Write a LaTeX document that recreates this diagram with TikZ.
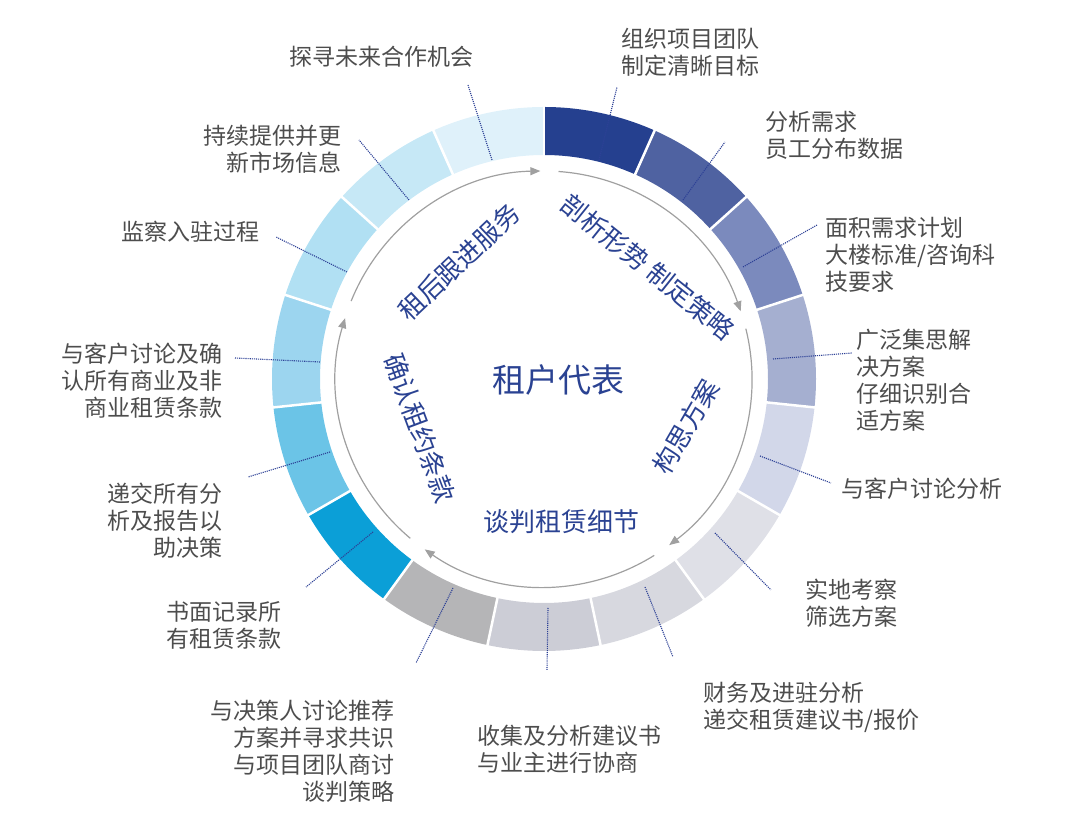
\documentclass[tikz,border=0pt]{standalone}
\usepackage{fontspec}
\setmainfont{Noto Sans CJK SC}
\usepackage{xcolor}
\usetikzlibrary{arrows.meta, calc}
\definecolor{NavyText}{RGB}{42, 66, 146}
\definecolor{LabelGray}{RGB}{77, 77, 77}
\definecolor{LeaderBlue}{RGB}{45, 65, 150}
\definecolor{ArrowGray}{RGB}{160, 160, 160}
\definecolor{SegA}{RGB}{37, 64, 143}
\definecolor{SegB}{RGB}{79, 98, 161}
\definecolor{SegC}{RGB}{123, 138, 189}
\definecolor{SegD}{RGB}{165, 175, 208}
\definecolor{SegE}{RGB}{210, 215, 233}
\definecolor{SegF}{RGB}{223, 224, 231}
\definecolor{SegG}{RGB}{215, 216, 223}
\definecolor{SegH}{RGB}{204, 205, 214}
\definecolor{SegI}{RGB}{181, 181, 183}
\definecolor{SegJ}{RGB}{11, 159, 215}
\definecolor{SegK}{RGB}{107, 196, 231}
\definecolor{SegL}{RGB}{156, 213, 239}
\definecolor{SegM}{RGB}{177, 224, 243}
\definecolor{SegN}{RGB}{198, 232, 246}
\definecolor{SegO}{RGB}{223, 241, 250}

\begin{document}
\begin{tikzpicture}[
        x=1pt, y=1pt,
        noteright/.style = {inner sep=0, anchor=west, align=left, text=LabelGray, font=\fontsize{23}{27}\selectfont},
        noteleft/.style = {inner sep=0, anchor=east, align=right, text=LabelGray, font=\fontsize{23}{27}\selectfont},
        phase/.style = {inner sep=0, text=NavyText, font=\fontsize{26}{30}\selectfont},
        leader/.style = {draw=LeaderBlue, densely dotted, line width=1.1pt},
        cyclearrow/.style = {draw=ArrowGray, line width=1.2pt, -{Triangle[length=10pt, width=8pt]}}
    ]
        \useasboundingbox (0,0) rectangle (1080,824);
        \coordinate (hub) at (544,445);

        % Ring segments
        \foreach \col [count=\i from 0] in {SegA,SegB,SegC,SegD,SegE,SegF,SegG,SegH,SegI,SegJ,SegK,SegL,SegM,SegN,SegO} {
            \pgfmathsetmacro{\a}{90-24*\i}
            \pgfmathsetmacro{\b}{66-24*\i}
            \fill [\col] ($(hub)+(\a:272)$) arc [start angle=\a, end angle=\b, radius=272]
                -- ($(hub)+(\b:224)$) arc [start angle=\b, end angle=\a, radius=224] -- cycle;
        }
        \foreach \i in {0,...,14} {
            \pgfmathsetmacro{\a}{90-24*\i}
            \draw [white, line width=2.5pt] ($(hub)+(\a:222)$) -- ($(hub)+(\a:274)$);
        }

        % Inner cycle
        \foreach \k in {0,...,4} {
            \pgfmathsetmacro{\s}{86-72*\k}
            \pgfmathsetmacro{\e}{19-72*\k}
            \coordinate (cycle\k_start) at ($(hub)+(\s:208)$);
            \draw [cyclearrow] (cycle\k_start) arc [start angle=\s, end angle=\e, radius=208];
        }

        % Leaders
        \foreach \n/\ix/\iy/\ox/\oy in {0/599/664/617/737, 1/683/624/725/682, 2/743/557/817/599,
                3/773/465/852/471, 4/760/368/831/341, 5/715/291/771/234, 6/645/237/673/167,
                7/548/216/547/154, 8/453/236/416/161, 9/373/292/306/237, 10/330/372/248/347,
                11/320/462/235/466, 12/347/552/276/587, 13/409/624/359/684, 14/492/664/468/739} {
            \coordinate (lead\n_in) at (\ix,\iy);
            \coordinate (lead\n_out) at (\ox,\oy);
            \draw [leader] (lead\n_in) -- (lead\n_out);
        }

        % Step labels
        \node (note0) [noteright] at (621,771.5) {组织项目团队\\制定清晰目标};
        \node (note1) [noteright] at (765,689) {分析需求\\员工分布数据};
        \node (note2) [noteright] at (825,569) {面积需求计划\\大楼标准/咨询科\\技要求};
        \node (note3) [noteright] at (856,443.5) {广泛集思解\\决方案\\仔细识别合\\适方案};
        \node (note4) [noteright] at (841,335) {与客户讨论分析};
        \node (note5) [noteright] at (805,221) {实地考察\\筛选方案};
        \node (note6) [noteright] at (703,117) {财务及进驻分析\\递交租赁建议书/报价};
        \node (note7) [noteright] at (477,74.5) {收集及分析建议书\\与业主进行协商};
        \node (note8) [noteleft] at (395,72.5) {与决策人讨论推荐\\方案并寻求共识\\与项目团队商讨\\谈判策略};
        \node (note9) [noteleft] at (282,199) {书面记录所\\有租赁条款};
        \node (note10) [noteleft] at (223,303.5) {递交所有分\\析及报告以\\助决策};
        \node (note11) [noteleft] at (223,443.5) {与客户讨论及确\\认所有商业及非\\商业租赁条款};
        \node (note12) [noteleft] at (260,592) {监察入驻过程};
        \node (note13) [noteleft] at (342,675) {持续提供并更\\新市场信息};
        \node (note14) [noteleft] at (474,767) {探寻未来合作机会};

        % Phases
        \node (core) [phase, font=\fontsize{33}{38}\selectfont] at (558,444) {租户代表};
        \node (phase1) [phase, rotate=-38.7] at (648,557) {剖析形势 制定策略};
        \node (phase2) [phase, rotate=60] at (686,397) {构思方案};
        \node (phase3) [phase] at (561,302) {谈判租赁细节};
        \node (phase4) [phase, rotate=-69.5] at (420,396) {确认租约条款};
        \node (phase5) [phase, rotate=43.5] at (459,562) {租后跟进服务};

    \end{tikzpicture}
\end{document}
